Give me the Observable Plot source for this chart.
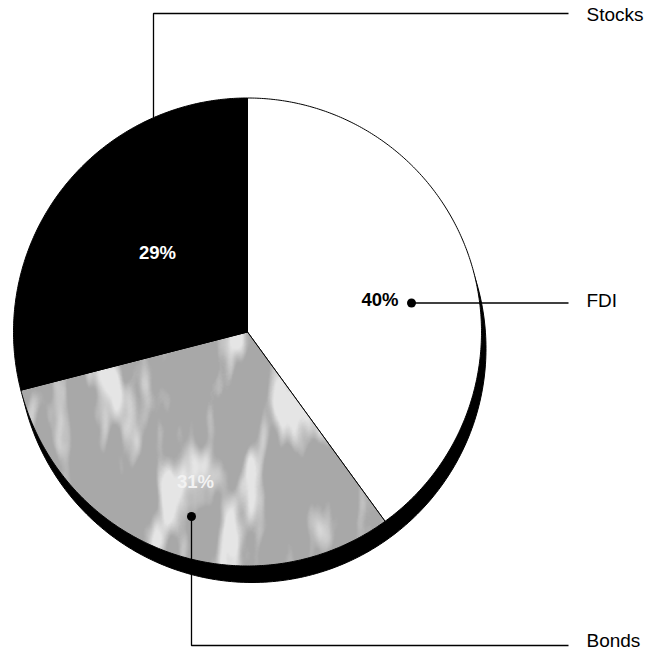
<!DOCTYPE html>
<html><head><meta charset="utf-8">
<script src="https://cdn.jsdelivr.net/npm/d3@7"></script>
<script src="https://cdn.jsdelivr.net/npm/@observablehq/plot@0.6"></script>
<style>html,body{margin:0;padding:0;background:#fff} #chart svg{display:block}</style>
</head><body><div id="chart"></div>
<script>
// ---- data ----
const categories = ["FDI", "Bonds", "Stocks"];
const shares = [40, 31, 29];
const pctLabels = ["40%", "31%", "29%"];
const sliceFills = ["#ffffff", "url(#bondsTexture)", "#000000"];

// ---- layout (pixels) ----
const W = 647, H = 650, cx = 247, cy = 331.5, R = 234;
const shadowDx = 4.5 / R, shadowDy = -16.5 / R;

const rows = categories.map((c, i) => ({category: c, share: shares[i], label: pctLabels[i], fill: sliceFills[i]}));
const arcs = d3.pie().sort(null).value(d => d.share)(rows);

const toXY = (a, r) => [r * Math.sin(a), r * Math.cos(a)];
function slicePoly(a0, a1, name) {
  const pts = [{x: 0, y: 0, k: name}];
  const n = Math.max(8, Math.ceil((a1 - a0) / 0.01));
  for (let i = 0; i <= n; i++) {
    const [x, y] = toXY(a0 + (a1 - a0) * i / n, 1);
    pts.push({x, y, k: name});
  }
  pts.push({x: 0, y: 0, k: name});
  return pts;
}
const circle = d3.range(0, 361).map(i => {
  const [x, y] = toXY(i * Math.PI / 180, 1);
  return {x: x + shadowDx, y: y + shadowDy};
});

// label / leader geometry in unit (radius) coordinates
const textX = (586 - cx) / R, lineEnd = (568 - cx) / R;
const u = (px, py) => ({x: (px - cx) / R, y: (cy - py) / R});
const leaders = {
  Stocks: {anchor: u(153, 0), top: (cy - 13) / R},
  FDI: {dot: u(411, 302.5)},
  Bonds: {dot: u(191, 516), bottom: (cy - 645) / R}
};
const stocksA = leaders.Stocks.anchor.x;
const stocksLine = [
  {x: stocksA, y: Math.sqrt(1 - stocksA * stocksA) - 0.01},
  {x: stocksA, y: leaders.Stocks.top},
  {x: lineEnd, y: leaders.Stocks.top}
];
const fdiLine = [leaders.FDI.dot, {x: lineEnd, y: leaders.FDI.dot.y}];
const bondsLine = [leaders.Bonds.dot, {x: leaders.Bonds.dot.x, y: leaders.Bonds.bottom}, {x: lineEnd, y: leaders.Bonds.bottom}];

const rightLabels = [
  {text: "Stocks", x: textX, y: leaders.Stocks.top, dy: 1.5},
  {text: "FDI", x: textX, y: leaders.FDI.dot.y, dy: -2},
  {text: "Bonds", x: textX, y: leaders.Bonds.bottom, dy: -5}
];
const pctPos = {
  FDI: {...u(398, 300), anchor: "end", color: "#000"},
  Bonds: {...u(195, 482), anchor: "middle", color: "#f2f2f2"},
  Stocks: {...u(157, 253), anchor: "middle", color: "#ffffff"}
};
const pctData = arcs.map(a => ({label: a.data.label, ...pctPos[a.data.category]}));

const marks = [
  Plot.line(circle, {x: "x", y: "y", fill: "#000", stroke: "#000", strokeWidth: 1, curve: "linear"}),
  ...arcs.map(a => Plot.line(slicePoly(a.startAngle, a.endAngle, a.data.category),
    {x: "x", y: "y", fill: a.data.fill, stroke: "#000", strokeWidth: 1, strokeLinejoin: "miter", curve: "linear"})),
  Plot.line(stocksLine, {x: "x", y: "y", stroke: "#000", strokeWidth: 1.3, strokeLinejoin: "miter", strokeLinecap: "butt"}),
  Plot.line(fdiLine, {x: "x", y: "y", stroke: "#000", strokeWidth: 1.3, strokeLinecap: "butt"}),
  Plot.line(bondsLine, {x: "x", y: "y", stroke: "#000", strokeWidth: 1.3, strokeLinejoin: "miter", strokeLinecap: "butt"}),
  Plot.dot([leaders.FDI.dot, leaders.Bonds.dot], {x: "x", y: "y", r: 4.5, fill: "#000"}),
  ...rightLabels.map(d => Plot.text([d], {x: "x", y: "y", text: "text", dy: d.dy, textAnchor: "start", fontSize: 19, fill: "#000"})),
  ...pctData.map(d => Plot.text([d], {x: "x", y: "y", text: "label", textAnchor: d.anchor, fontSize: 18.5, fontWeight: "bold", fill: d.color}))
];

const plot = Plot.plot({
  width: W, height: H,
  margin: 0,
  x: {domain: [-cx / R, (W - cx) / R], range: [0, W], axis: null},
  y: {domain: [(cy - H) / R, cy / R], range: [H, 0], axis: null},
  style: {fontFamily: "'Liberation Sans', Arial, Helvetica, sans-serif", background: "#fff"},
  marks
});

// halftone + mottled texture for the Bonds slice
const ns = "http://www.w3.org/2000/svg";
const defs = document.createElementNS(ns, "defs");
defs.innerHTML = `
<pattern id="halftone" patternUnits="userSpaceOnUse" width="2" height="2">
  <rect width="2" height="2" fill="#e8e8e8"/>
  <rect width="1" height="1" fill="#505050"/>
  <rect x="1" y="1" width="1" height="1" fill="#808080"/>
</pattern>
<filter id="mottle" x="0" y="0" width="1" height="1" filterUnits="objectBoundingBox">
  <feTurbulence type="fractalNoise" baseFrequency="0.028 0.009" numOctaves="3" seed="11" result="noise"/>
  <feColorMatrix in="noise" type="matrix" values="0 0 0 0 1  0 0 0 0 1  0 0 0 0 1  5 0 0 0 -2.5"/>
  <feComposite in2="SourceGraphic" operator="in"/>
</filter>
<pattern id="bondsTexture" patternUnits="userSpaceOnUse" width="${W}" height="${H}">
  <rect width="${W}" height="${H}" fill="url(#halftone)"/>
  <rect width="${W}" height="${H}" fill="#fff" opacity="0.7" filter="url(#mottle)"/>
</pattern>`;
plot.insertBefore(defs, plot.firstChild);
document.getElementById("chart").appendChild(plot);
</script>
</body></html>
